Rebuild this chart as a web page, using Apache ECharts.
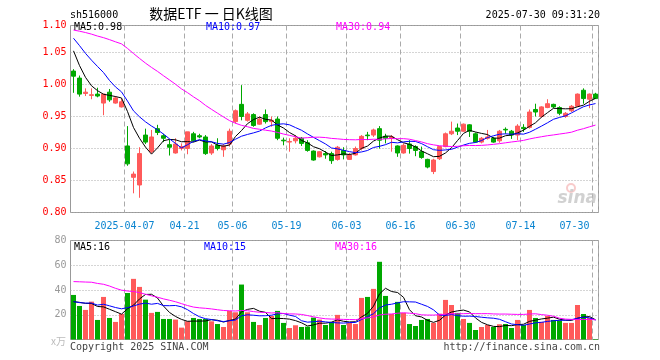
<!DOCTYPE html>
<html><head><meta charset="utf-8">
<script src="https://cdn.jsdelivr.net/npm/echarts@6/dist/echarts.min.js"></script>
<style>html,body{margin:0;padding:0;background:#fff}#c{width:660px;height:360px}</style>
</head><body><div id="c"></div>
<script>
// ---- data ----
const dates = [
'2025-03-24','2025-03-25','2025-03-26','2025-03-27','2025-03-28','2025-03-31',
'2025-04-01','2025-04-02','2025-04-03','2025-04-07','2025-04-08','2025-04-09','2025-04-10','2025-04-11',
'2025-04-14','2025-04-15','2025-04-16','2025-04-17','2025-04-18',
'2025-04-21','2025-04-22','2025-04-23','2025-04-24','2025-04-25',
'2025-04-28','2025-04-29','2025-04-30',
'2025-05-06','2025-05-07','2025-05-08','2025-05-09',
'2025-05-12','2025-05-13','2025-05-14','2025-05-15','2025-05-16',
'2025-05-19','2025-05-20','2025-05-21','2025-05-22','2025-05-23',
'2025-05-26','2025-05-27','2025-05-28','2025-05-29','2025-05-30',
'2025-06-03','2025-06-04','2025-06-05','2025-06-06',
'2025-06-09','2025-06-10','2025-06-11','2025-06-12','2025-06-13',
'2025-06-16','2025-06-17','2025-06-18','2025-06-19','2025-06-20',
'2025-06-23','2025-06-24','2025-06-25','2025-06-26','2025-06-27',
'2025-06-30','2025-07-01','2025-07-02','2025-07-03','2025-07-04',
'2025-07-07','2025-07-08','2025-07-09','2025-07-10','2025-07-11',
'2025-07-14','2025-07-15','2025-07-16','2025-07-17','2025-07-18',
'2025-07-21','2025-07-22','2025-07-23','2025-07-24','2025-07-25',
'2025-07-28','2025-07-29','2025-07-30'];
const tickDates = ['2025-04-07','2025-04-21','2025-05-06','2025-05-19','2025-06-03','2025-06-16','2025-06-30','2025-07-14','2025-07-30'];

const openP = [1.021,1.010,0.986,0.983,0.985,0.971,0.988,0.971,0.965,0.904,
0.855,0.843,0.921,0.895,0.931,0.920,0.906,0.893,0.900,0.900,
0.923,0.920,0.918,0.893,0.905,0.898,0.907,0.942,0.969,0.944,
0.953,0.938,0.953,0.942,0.946,0.913,0.910,0.912,0.916,0.909,
0.896,0.887,0.892,0.892,0.883,0.897,0.883,0.890,0.900,0.921,
0.921,0.931,0.919,0.916,0.904,0.893,0.907,0.903,0.895,0.883,
0.864,0.884,0.903,0.923,0.932,0.927,0.937,0.923,0.910,0.916,
0.916,0.912,0.930,0.927,0.921,0.933,0.933,0.961,0.950,0.964,
0.969,0.964,0.950,0.959,0.966,0.991,0.977,0.985];
const closeP = [1.013,0.985,0.988,0.984,0.982,0.985,0.976,0.979,0.973,0.876,
0.860,0.892,0.910,0.918,0.925,0.916,0.902,0.907,0.903,0.926,
0.912,0.918,0.892,0.904,0.900,0.904,0.927,0.959,0.950,0.954,
0.936,0.946,0.942,0.944,0.916,0.912,0.911,0.916,0.908,0.897,
0.882,0.895,0.890,0.881,0.902,0.890,0.890,0.900,0.919,0.920,
0.929,0.913,0.916,0.918,0.893,0.905,0.900,0.897,0.886,0.871,
0.882,0.903,0.923,0.927,0.927,0.938,0.927,0.910,0.916,0.918,
0.910,0.927,0.929,0.921,0.935,0.931,0.957,0.957,0.965,0.970,
0.965,0.955,0.955,0.966,0.985,0.978,0.985,0.978];
const lowP = [0.987,0.981,0.982,0.977,0.980,0.952,0.973,0.970,0.964,0.873,
0.830,0.823,0.907,0.892,0.921,0.910,0.889,0.892,0.897,0.891,
0.910,0.916,0.890,0.890,0.897,0.887,0.903,0.939,0.944,0.942,
0.934,0.937,0.939,0.934,0.913,0.905,0.895,0.908,0.904,0.895,
0.881,0.886,0.884,0.876,0.881,0.883,0.882,0.889,0.897,0.913,
0.918,0.900,0.908,0.895,0.887,0.892,0.892,0.888,0.884,0.869,
0.860,0.882,0.902,0.921,0.921,0.926,0.918,0.909,0.908,0.914,
0.909,0.909,0.923,0.915,0.913,0.926,0.931,0.950,0.948,0.963,
0.963,0.952,0.948,0.957,0.965,0.970,0.963,0.978];
const highP = [1.024,1.014,0.994,0.994,0.995,0.985,0.993,0.982,0.978,0.935,
0.864,0.902,0.931,0.929,0.937,0.923,0.914,0.916,0.908,0.926,
0.926,0.923,0.921,0.907,0.916,0.907,0.931,0.961,0.999,0.957,
0.955,0.950,0.961,0.950,0.950,0.917,0.916,0.921,0.918,0.913,
0.897,0.896,0.896,0.895,0.904,0.902,0.893,0.903,0.921,0.926,
0.931,0.935,0.923,0.921,0.905,0.908,0.913,0.905,0.903,0.884,
0.884,0.904,0.925,0.942,0.939,0.939,0.938,0.925,0.918,0.929,
0.918,0.929,0.933,0.929,0.938,0.938,0.961,0.970,0.966,0.977,
0.970,0.966,0.957,0.968,0.986,0.994,0.986,0.987];
const volume = [36.0,27.1,23.9,30.6,15.8,34.4,17.4,14.2,20.6,37.6,
49.0,42.5,32.2,21.5,22.3,16.6,16.6,16.1,9.6,14.7,
17.4,16.6,16.6,14.7,12.5,10.1,23.1,22.0,44.4,22.0,
14.2,11.7,17.4,19.0,23.1,13.4,9.3,11.5,10.1,10.4,
17.7,16.1,11.7,14.2,19.9,11.7,13.4,12.5,33.6,34.4,
40.9,62.8,35.2,20.6,30.4,21.5,12.5,10.9,15.8,16.6,
13.4,20.9,32.0,27.9,21.5,16.6,13.4,7.7,10.1,11.7,
10.1,12.3,12.5,9.3,15.8,11.7,23.9,17.4,14.2,19.0,
15.8,15.5,13.4,13.4,27.9,20.6,17.4,0.4];
// earlier sessions (before the visible window), estimated from where the MA lines start
const prevClose = [1.04,1.05,1.06,1.07,1.06,1.07,1.08,1.07,
1.09,1.10,1.12,1.13,1.12,1.11,1.12,1.10,1.11,1.12,1.10,1.11,
1.10,1.11,1.09,1.08,1.08,1.10,1.08,1.05,1.02];
const prevVolume = [32,30,35,45,55,60,70,65,58,62,68,72,60,55,58,50,52,56,60,55,
35,28,30,32,28,30,28,31,28];

const codeText = 'sh516000';
const titleText = '数据ETF 一 日K线图';
const stampText = '2025-07-30 09:31:20';
const priceMaText = ['MA5:0.98','MA10:0.97','MA30:0.94'];
const volMaText = ['MA5:16','MA10:15','MA30:16'];
const maPeriods = [5,10,30];
const maColors = ['#000000','#0000ff','#ff00ff'];

// ---- helpers ----
function movingAvg(prev, vals, n){
  const all = prev.concat(vals);
  return vals.map((_, i) => {
    let s = 0;
    for (let k = 0; k < n; k++) s += all[prev.length + i - k];
    return +(s / n).toFixed(4);
  });
}
const MONO = '"DejaVu Sans Mono", monospace';
const UP = '#ff5a5a', DOWN = '#00a800';
const isTick = (idx, val) => tickDates.indexOf(val) >= 0;

const candleData = dates.map((d, i) => [openP[i], closeP[i], lowP[i], highP[i]]);
const volData = volume.map((v, i) => ({value: v, itemStyle: {color: closeP[i] >= openP[i] ? UP : DOWN}}));

const series = [{
  type: 'candlestick', xAxisIndex: 0, yAxisIndex: 0, data: candleData, barWidth: 4,
  itemStyle: {color: UP, color0: DOWN, borderColor: UP, borderColor0: DOWN, borderWidth: 1}
}];
maPeriods.forEach((n, k) => series.push({
  type: 'line', xAxisIndex: 0, yAxisIndex: 0, data: movingAvg(prevClose, closeP, n),
  showSymbol: false, symbol: 'none', lineStyle: {color: maColors[k], width: 1}, z: 3
}));
series.push({type: 'bar', xAxisIndex: 1, yAxisIndex: 1, data: volData, barWidth: 5});
maPeriods.forEach((n, k) => series.push({
  type: 'line', xAxisIndex: 1, yAxisIndex: 1, data: movingAvg(prevVolume, volume, n),
  showSymbol: false, symbol: 'none', lineStyle: {color: maColors[k], width: 1}, z: 3
}));

const vSplit = {show: true, interval: isTick, lineStyle: {color: '#aaaaaa', type: [5, 3], width: 1}};
const hSplit = {show: true, lineStyle: {color: '#aaaaaa', type: [1, 2], width: 1}};

function txt(x, y, text, fill, font, align){
  return {type: 'text', x: x, y: y, silent: true, z: 100,
    style: {text: text, fill: fill, font: font, align: align || 'left', verticalAlign: 'middle'}};
}

const option = {
  animation: false,
  backgroundColor: '#ffffff',
  grid: [
    {left: 70.5, top: 25.5, width: 528, height: 187, show: true, borderColor: '#999999', borderWidth: 1, backgroundColor: 'transparent'},
    {left: 70.5, top: 240.5, width: 528, height: 99, show: true, borderColor: '#999999', borderWidth: 1, backgroundColor: 'transparent'}
  ],
  xAxis: [
    {type: 'category', gridIndex: 0, data: dates, boundaryGap: true,
     axisLine: {show: false}, axisTick: {show: false},
     axisLabel: {show: true, interval: isTick, margin: 9, color: '#0a84d0', fontFamily: MONO, fontSize: 10,
       padding: [0, 6, 0, 0], alignMaxLabel: 'right',
       formatter: v => v === tickDates[0] ? v : v.slice(5)},
     splitLine: vSplit},
    {type: 'category', gridIndex: 1, data: dates, boundaryGap: true,
     axisLine: {show: false}, axisTick: {show: false}, axisLabel: {show: false},
     splitLine: vSplit}
  ],
  yAxis: [
    {type: 'value', gridIndex: 0, min: 0.80, max: 1.0922, interval: 0.05,
     axisLine: {show: false}, axisTick: {show: false},
     axisLabel: {color: '#ff0000', fontFamily: MONO, fontSize: 10, margin: 4,
       formatter: v => v > 1.07 ? '1.10' : v.toFixed(2)},
     splitLine: hSplit},
    {type: 'value', gridIndex: 1, min: 0, max: 80, interval: 20,
     axisLine: {show: false}, axisTick: {show: false},
     axisLabel: {color: '#999999', fontFamily: MONO, fontSize: 10, margin: 4,
       formatter: v => v === 0 ? '' : String(v)},
     splitLine: hSplit}
  ],
  series: series,
  graphic: [
    txt(70, 15, codeText, '#000', '10px ' + MONO),
    txt(211, 14, titleText, '#000', '14px "Noto Sans CJK SC"', 'center'),
    txt(600, 15, stampText, '#000', '10px ' + MONO, 'right'),
    txt(74, 27, priceMaText[0], maColors[0], '10px ' + MONO),
    txt(206, 27, priceMaText[1], maColors[1], '10px ' + MONO),
    txt(336, 27, priceMaText[2], maColors[2], '10px ' + MONO),
    txt(74, 247, volMaText[0], maColors[0], '10px ' + MONO),
    txt(204, 247, volMaText[1], maColors[1], '10px ' + MONO),
    txt(335, 247, volMaText[2], maColors[2], '10px ' + MONO),
    txt(66, 341, 'x万', '#bbbbbb', '10px "Noto Sans CJK SC"', 'right'),
    txt(70, 347, 'Copyright 2025 SINA.COM', '#444', '10px ' + MONO),
    txt(600, 347, 'http://finance.sina.com.cn', '#444', '10px ' + MONO, 'right'),
    txt(597, 199, 'sina', 'rgba(190,190,190,0.7)', 'italic bold 17px "DejaVu Sans"', 'right'),
    {type: 'circle', shape: {cx: 571, cy: 188, r: 4}, silent: true, z: 99,
     style: {fill: 'none', stroke: 'rgba(240,140,140,0.45)', lineWidth: 2}}
  ]
};
echarts.init(document.getElementById('c')).setOption(option);
</script></body></html>
